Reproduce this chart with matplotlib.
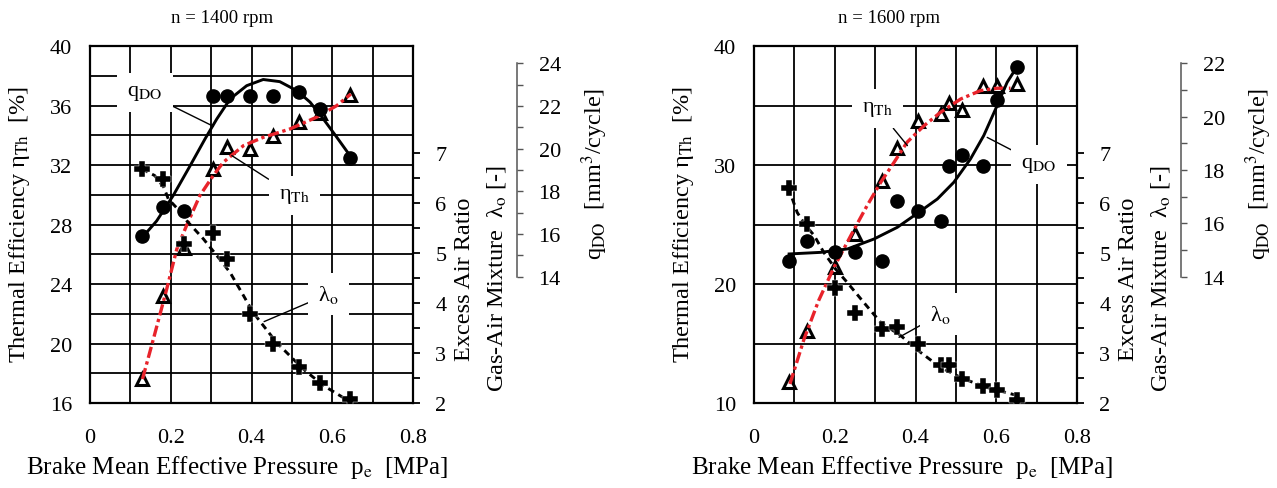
import numpy as np
import matplotlib
matplotlib.use("Agg")
import matplotlib.pyplot as plt

plt.rcParams['font.family'] = ['Liberation Serif', 'DejaVu Serif']
plt.rcParams['mathtext.fontset'] = 'stix'

# ---- n = 1400 rpm: measured points ----
pe_1400 = [0.129, 0.182, 0.233, 0.304, 0.339, 0.397, 0.452, 0.518, 0.569, 0.643]
qdo_1400 = [15.92, 17.25, 17.07, 22.46, 22.46, 22.46, 22.46, 22.65, 21.86, 19.56]
eta_1400 = [17.61, 23.17, 26.40, 31.73, 33.19, 33.08, 33.93, 34.91, 35.50, 36.71]
lam_1400 = [6.68, 6.49, 5.18, 5.41, 4.88, 3.78, 3.18, 2.73, 2.41, 2.08]

# trend lines
qdo_fit_pe_1400 = [0.130, 0.165, 0.206, 0.248, 0.285, 0.314, 0.347, 0.388, 0.429, 0.470,
                   0.512, 0.545, 0.578, 0.611, 0.644]
qdo_fit_1400 = [15.85, 16.61, 17.80, 19.20, 20.46, 21.39, 22.33, 22.95, 23.24, 23.14,
                22.72, 22.18, 21.39, 20.54, 19.67]
eta_fit_pe_1400 = [0.130, 0.157, 0.190, 0.215, 0.239, 0.272, 0.305, 0.330, 0.380, 0.429,
                   0.495, 0.561, 0.611, 0.646]
eta_fit_1400 = [17.61, 20.30, 23.66, 26.35, 27.92, 29.94, 31.28, 32.18, 33.30, 33.86,
                34.42, 35.21, 35.99, 36.77]
lam_fit_pe_1400 = [0.128, 0.160, 0.183, 0.194, 0.215, 0.239, 0.281, 0.314, 0.347, 0.380,
                   0.404, 0.462, 0.528, 0.578, 0.639]
lam_fit_1400 = [6.68, 6.55, 6.31, 6.08, 5.90, 5.65, 5.28, 4.95, 4.61, 4.15,
                3.81, 3.21, 2.68, 2.35, 2.05]

# ---- n = 1600 rpm: measured points ----
pe_1600 = [0.086, 0.131, 0.200, 0.249, 0.318, 0.355, 0.407, 0.462, 0.483, 0.516,
           0.567, 0.601, 0.652]
qdo_1600 = [14.60, 15.35, 14.91, 14.91, 14.60, 16.83, 16.45, 16.10, 18.16, 18.57,
            18.14, 20.63, 21.85]
eta_1600 = [11.74, 16.08, 21.40, 24.20, 28.68, 31.40, 33.73, 34.29, 35.18, 34.62,
            36.61, 36.64, 36.81]
lam_1600 = [6.31, 5.58, 4.31, 3.81, 3.48, 3.53, 3.18, 2.77, 2.77, 2.48,
            2.35, 2.27, 2.06]

qdo_fit_pe_1600 = [0.087, 0.165, 0.232, 0.297, 0.355, 0.408, 0.454, 0.495, 0.536, 0.569,
                   0.602, 0.627, 0.648]
qdo_fit_1600 = [14.85, 14.91, 15.04, 15.41, 15.85, 16.41, 16.91, 17.54, 18.41, 19.29,
                20.41, 21.29, 21.79]
eta_fit_pe_1600 = [0.089, 0.124, 0.160, 0.198, 0.245, 0.280, 0.314, 0.347, 0.379, 0.421,
                   0.462, 0.512, 0.561, 0.602, 0.635]
eta_fit_1600 = [11.60, 15.38, 18.60, 21.40, 24.40, 26.58, 28.55, 30.23, 31.91, 33.30,
                34.43, 35.55, 36.25, 36.45, 36.45]
lam_fit_pe_1600 = [0.085, 0.107, 0.128, 0.149, 0.173, 0.202, 0.231, 0.272, 0.314, 0.363,
                   0.413, 0.462, 0.520, 0.577, 0.652]
lam_fit_1600 = [6.31, 5.81, 5.55, 5.35, 5.01, 4.68, 4.41, 4.01, 3.61, 3.35,
                3.01, 2.71, 2.48, 2.31, 2.15]

RED = '#e8232b'
TICK_FS = 16


def draw_panel(rect, title, pe, qdo, eta, lam,
               qfit_x, qfit, efit_x, efit, lfit_x, lfit,
               eta_lim, eta_ticks, eta_grid, qdo_lim, qdo_ticks, qdo_minor,
               labels, title_x, xlabel_x):
    ax = fig.add_axes(rect)
    ax.set_xlim(0, 0.8)
    ax.set_ylim(*eta_lim)
    ax.set_xticks(np.arange(0, 0.81, 0.2))
    ax.set_xticklabels(['0', '0.2', '0.4', '0.6', '0.8'])
    ax.set_xticks(np.arange(0, 0.81, 0.1), minor=True)
    ax.set_yticks(eta_ticks)
    ax.set_yticks(eta_grid, minor=True)
    ax.grid(True, which='both', color='black', lw=1.3)
    ax.tick_params(which='both', length=0, labelsize=TICK_FS)
    ax.tick_params(axis='x', pad=18)
    ax.tick_params(axis='y', pad=13)
    for s in ax.spines.values():
        s.set_linewidth(1.6)

    # thermal efficiency
    ax.plot(pe, eta, ls='none', marker='^', ms=9, mfc='white', mec='black',
            mew=2.2, zorder=4)
    ax.plot(efit_x, efit, color=RED, lw=2.4, ls=(0, (3.4, 1.1, 1.0, 1.1)), zorder=5)

    # excess air ratio axis
    lx = ax.twinx()
    lx.set_ylim(2, 9.14)
    lx.set_yticks([2, 3, 4, 5, 6, 7])
    lx.set_yticks(np.arange(2.5, 7, 1.0), minor=True)
    lx.tick_params(which='both', direction='out', length=5, width=1.3,
                   labelsize=TICK_FS, pad=11)
    for s in lx.spines.values():
        s.set_visible(False)
    lx.plot(lfit_x, lfit, color='black', lw=2.1, ls=(0, (2.3, 1.7)), zorder=3)
    lx.plot(pe, lam, ls='none', marker='P', ms=12, color='black', mec='white',
            mew=0.3, zorder=4)
    lx.text(1.158, 0.35, 'Excess Air Ratio', transform=lx.transAxes, rotation=90,
            ha='center', va='center', fontsize=17.5)
    lx.text(1.257, 0.35, r'Gas-Air Mixture  λ$_{\mathrm{o}}$ [-]',
            transform=lx.transAxes, rotation=90, ha='center', va='center',
            fontsize=17.5)

    # injected fuel quantity axis
    qx = ax.twinx()
    qx.set_ylim(*qdo_lim)
    for k in ('top', 'bottom', 'left'):
        qx.spines[k].set_visible(False)
    qx.spines['right'].set_position(('axes', 1.322))
    qx.spines['right'].set_bounds(qdo_ticks[0], qdo_ticks[-1])
    qx.spines['right'].set_color('#555555')
    qx.spines['right'].set_linewidth(1.1)
    qx.set_yticks(qdo_ticks)
    qx.set_yticks(qdo_minor, minor=True)
    qx.tick_params(which='both', direction='out', length=4.5, width=1.0,
                   color='#555555', labelsize=TICK_FS, pad=11)
    qx.plot(pe, qdo, ls='none', marker='o', ms=9.5, color='black', zorder=4)
    qx.plot(qfit_x, qfit, color='black', lw=2.1, zorder=3)
    qx.text(1.562, 0.644, r'q$_{\mathrm{DO}}$  [mm$^{3}$/cycle]', transform=qx.transAxes,
            rotation=90, ha='center', va='center', fontsize=17.5)

    # curve labels with leader lines
    box = dict(boxstyle='square,pad=0.45', fc='white', ec='none')
    for txt, xy, xytext in labels:
        qx.annotate(txt, xy=xy, xycoords='axes fraction', xytext=xytext,
                    textcoords='axes fraction', ha='center', va='center',
                    fontsize=16, bbox=box, zorder=6,
                    arrowprops=dict(arrowstyle='-', lw=1.0, color='black',
                                    shrinkA=0, shrinkB=0))

    ax.text(title_x, 1.081, title, transform=ax.transAxes, ha='center',
            va='center', fontsize=13.5)
    ax.text(xlabel_x, -0.179, r'Brake Mean Effective Pressure  p$_{\mathrm{e}}$  [MPa]',
            transform=ax.transAxes, ha='center', va='center', fontsize=18)
    ax.text(-0.218, 0.504, r'Thermal Efficiency $\mathregular{η}_{\mathrm{Th}}$  [%]',
            transform=ax.transAxes, rotation=90, ha='center', va='center',
            fontsize=17.5)
    return ax


fig = plt.figure(figsize=(12.77, 4.89), dpi=100)

q_lab = r'q$_{\mathrm{DO}}$'
e_lab = r'η$_{\mathrm{Th}}$'
l_lab = r'λ$_{\mathrm{o}}$'

draw_panel([0.07048, 0.17382, 0.25294, 0.73006], 'n = 1400 rpm',
           pe_1400, qdo_1400, eta_1400, lam_1400,
           qdo_fit_pe_1400, qdo_fit_1400, eta_fit_pe_1400, eta_fit_1400,
           lam_fit_pe_1400, lam_fit_1400,
           (16, 40), np.arange(16, 41, 4), np.arange(16, 41, 2),
           (8.08, 24.81), np.arange(14, 25, 2), np.arange(15, 24, 2),
           [(q_lab, (0.382, 0.775), (0.170, 0.870)),
            (e_lab, (0.439, 0.693), (0.632, 0.581)),
            (l_lab, (0.539, 0.228), (0.738, 0.305))],
           0.409, 0.455)

draw_panel([0.59045, 0.17382, 0.25294, 0.73006], 'n = 1600 rpm',
           pe_1600, qdo_1600, eta_1600, lam_1600,
           qdo_fit_pe_1600, qdo_fit_1600, eta_fit_pe_1600, eta_fit_1600,
           lam_fit_pe_1600, lam_fit_1600,
           (10, 40), np.arange(10, 41, 10), np.arange(10, 41, 5),
           (9.26, 22.65), np.arange(14, 23, 2), np.arange(15, 22, 2),
           [(e_lab, (0.475, 0.721), (0.382, 0.824)),
            (q_lab, (0.722, 0.744), (0.882, 0.669)),
            (l_lab, (0.449, 0.184), (0.578, 0.249))],
           0.418, 0.458)

fig.savefig('out.png', dpi=100)
